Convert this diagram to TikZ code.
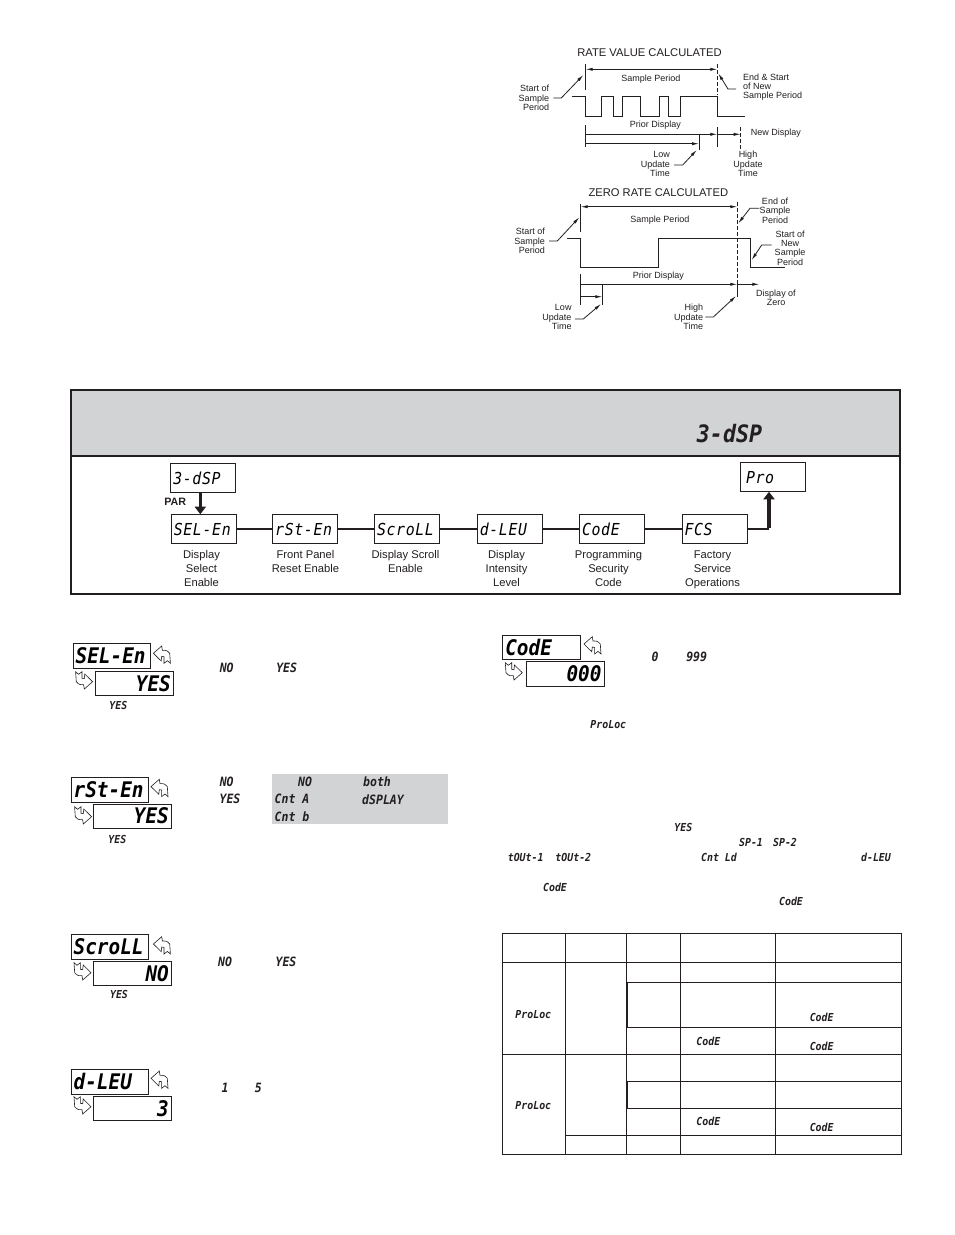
\documentclass[tikz,border=0pt]{standalone}
\usepackage{fontspec}
\setmainfont{Liberation Sans}
\newfontfamily\segfont[FakeStretch=0.9]{DejaVu Sans Mono}
\usetikzlibrary{arrows.meta}
\definecolor{inkblack}{HTML}{231F20}
\definecolor{panelgray}{HTML}{D1D3D4}
\tikzset{
	cadline/.style={line width=0.8pt, inkblack},
	cadarrow/.style={cadline, -{Latex[length=7pt,width=3.2pt]}},
	cadboth/.style={cadline, {Latex[length=7pt,width=3.2pt]}-{Latex[length=7pt,width=3.2pt]}},
	caddash/.style={cadline, dash pattern=on 4pt off 2pt},
	cadtitle/.style={inner sep=0pt, font=\fontsize{11.2}{12}\selectfont, inkblack},
	cadtext/.style={inner sep=0pt, font=\fontsize{9}{9.3}\selectfont, inkblack},
	flowlabel/.style={inner sep=0pt, align=center, anchor=north, font=\fontsize{11.2}{14}\selectfont, inkblack},
	flowbox/.style={draw=inkblack, line width=1pt, minimum width=65pt, minimum height=28.6pt, inner xsep=2.5pt, inner ysep=0pt, text width=60pt, align=left, font=\segfont\itshape\fontsize{16.5}{17}\selectfont\addfontfeature{LetterSpace=4}, text height=12pt, text depth=0pt},
	flowline/.style={line width=2pt, inkblack},
	bigarrow/.style={line width=3.6pt, inkblack, -{Triangle[length=7.5pt,width=11pt]}},
	dispbox/.style={draw=inkblack, line width=1pt, minimum width=77.5pt, minimum height=24.2pt, anchor=north west, inner xsep=2.5pt, inner ysep=0pt, text width=72.5pt, font=\segfont\bfseries\itshape\fontsize{21.5}{22}\selectfont, text height=15.5pt, text depth=0pt},
	displeft/.style={dispbox, align=left},
	dispright/.style={dispbox, align=right},
	segsmall/.style={inner sep=0pt, font=\segfont\bfseries\itshape\fontsize{11}{12}\selectfont, inkblack},
	segmid/.style={inner sep=0pt, font=\segfont\bfseries\itshape\fontsize{12.8}{13}\selectfont, inkblack},
	retkey/.pic={
		\draw[line width=0.6pt, inkblack, fill=white, line join=miter] (-8.3,-1.7) -- (0,-9) -- (0.7,-4.7) .. controls (5,-4.7) .. (8,-1.7) -- (8.7,8.3) -- (5.7,5.7) -- (2.3,8.3) -- (2.3,1.7) -- (0,1.3) -- (-0.5,6) -- cycle;
	},
}
\begin{document}
\begin{tikzpicture}[x=1pt,y=-1pt]
	\useasboundingbox[fill=white] (0,0) rectangle (954,1235);

	%rate value timing
	\node[cadtitle] (ratetitle) at (649.5,52.7) {RATE VALUE CALCULATED};
	\draw[cadline] (585.7,64) -- (585.7,90);
	\draw[caddash] (717.3,64) -- (717.3,95);
	\draw[cadboth] (585.7,69.3) -- (717.3,69.3);
	\node[cadtext] (ratesample) at (651,79) {Sample Period};
	\draw[cadline] (571.7,96.7) -- (585.7,96.7) -- (585.7,116) -- (601.3,116) -- (601.3,96.7) -- (613.3,96.7) -- (613.3,116) -- (622.3,116) -- (622.3,96.7) -- (640.3,96.7) -- (640.3,116) -- (659.7,116) -- (659.7,96.7) -- (668.3,96.7) -- (668.3,116) -- (680.3,116) -- (680.3,96.7) -- (717.3,96.7) -- (717.3,116) -- (745,116);
	\node[cadtext] (rateprior) at (655.3,125) {Prior Display};
	\draw[cadline] (585.7,125) -- (585.7,147);
	\draw[cadline] (717.3,127) -- (717.3,147);
	\draw[caddash] (740.7,127) -- (740.7,150);
	\draw[cadarrow] (585.7,134.3) -- (717.3,134.3);
	\draw[cadarrow] (717.3,134.3) -- (740.7,134.3);
	\draw[cadline] (699,135) -- (699,150);
	\draw[cadarrow] (585.7,143.7) -- (699,143.7);
	\node[cadtext, anchor=west] (ratenew) at (750.7,133.3) {New Display};
	\node[cadtext, align=right, anchor=east] (ratelow) at (670,164) {Low\\Update\\Time};
	\node[cadtext, align=center] (ratehigh) at (748,164) {High\\Update\\Time};
	\node[cadtext, align=right, anchor=east] (ratestart) at (549.3,98) {Start of\\Sample\\Period};
	\node[cadtext, align=left, anchor=west] (rateend) at (743,87) {End \& Start\\of New\\Sample Period};
	\draw[cadarrow] (ratestart.east) ++(4,0) -- ++(8,0) -- (583.3,75);
	\draw[cadarrow] (rateend.west) ++(-7,2) -- ++(-8,0) -- (718.3,73.3);
	\draw[cadarrow] (ratelow.east) ++(4,1) -- ++(8.7,0) -- (696.7,150);

	%zero rate timing
	\node[cadtitle] (zerotitle) at (658.3,192.7) {ZERO RATE CALCULATED};
	\draw[cadline] (580.7,204) -- (580.7,231.7);
	\draw[caddash] (737.3,201.7) -- (737.3,282);
	\draw[cadline] (737.3,282) -- (737.3,296.7);
	\draw[cadboth] (580.7,206.7) -- (737.3,206.7);
	\node[cadtext] (zerosample) at (660,220) {Sample Period};
	\draw[cadline] (567.3,238.3) -- (580.7,238.3) -- (580.7,267.3) -- (658.3,267.3) -- (658.3,238.3) -- (750,238.3) -- (750,267.3) -- (785,267.3);
	\node[cadtext] (zeroprior) at (658.3,276) {Prior Display};
	\draw[cadline] (580.7,274) -- (580.7,305);
	\draw[cadline] (602.3,284.3) -- (602.3,305);
	\draw[cadarrow] (580.7,284.3) -- (737.3,284.3);
	\draw[cadarrow] (737.3,284.3) -- (759.3,284.3);
	\draw[cadarrow] (580.7,296.7) -- (602.3,296.7);
	\node[cadtext, align=center] (zerozero) at (776,297.5) {Display of\\Zero};
	\node[cadtext, align=right, anchor=east] (zerolow) at (571.7,317) {Low\\Update\\Time};
	\node[cadtext, align=right, anchor=east] (zerohigh) at (703.3,317) {High\\Update\\Time};
	\node[cadtext, align=right, anchor=east] (zerostart) at (545,241) {Start of\\Sample\\Period};
	\node[cadtext, align=center] (zeroend) at (775,210.5) {End of\\Sample\\Period};
	\node[cadtext, align=center] (zeronew) at (790,248) {Start of\\New\\Sample\\Period};
	\draw[cadarrow] (zerolow.east) ++(3.3,2) -- ++(8.3,0) -- (601,304);
	\draw[cadarrow] (zerohigh.east) ++(2,0) -- ++(8,0) -- (736,296);
	\draw[cadarrow] (zerostart.east) ++(4,0) -- ++(8.3,0) -- (579.3,217.3);
	\draw[cadarrow] (759.3,208.3) -- (750,208.3) -- (738.3,223.3);
	\draw[cadarrow] (771.7,245) -- (761.7,245) -- (751.7,260);

	%parameter panel
	\draw[line width=1.6pt, inkblack, fill=panelgray] (71,390) rectangle (900,456);
	\draw[line width=1.6pt, inkblack] (71,456) -- (71,594) -- (900,594) -- (900,456);
	\node[inner sep=0pt, font=\segfont\bfseries\itshape\fontsize{24}{24}\selectfont, inkblack] (headdsp) at (729.5,434) {3-dSP};

	\node[flowbox] (dsp) at (203.3,478) {3-dSP};
	\node[flowbox] (selen) at (203.8,529) {SEL-En};
	\node[flowbox] (rsten) at (305.2,529) {rSt-En};
	\node[flowbox] (scroll) at (407,529) {ScroLL};
	\node[flowbox] (dlev) at (509.8,529) {d-LEU};
	\node[flowbox] (code) at (612,529) {CodE};
	\node[flowbox] (fcs) at (714.5,529) {FCS};
	\node[flowbox, inner xsep=5.5pt, text width=54pt] (pro) at (773,477) {Pro};
	\draw[bigarrow] ([xshift=-3pt]dsp.south) -- ([xshift=-3.5pt]selen.north);
	\node[inner sep=0pt, font=\bfseries\fontsize{10.7}{12}\selectfont, inkblack] (par) at (175.3,502.3) {PAR};
	\foreach \from/\to in {selen/rsten, rsten/scroll, scroll/dlev, dlev/code, code/fcs}
		\draw[flowline] (\from) -- (\to);
	\coordinate (fcsturn) at (769,529);
	\draw[flowline] (fcs.east) -- (fcsturn);
	\draw[bigarrow] ([yshift=1pt]fcsturn) -- ([xshift=-4pt]pro.south);

	\node[flowlabel] (lbsel) at (201.5,550) {Display\\Select\\Enable};
	\node[flowlabel] (lbrst) at (305.5,550) {Front Panel\\Reset Enable};
	\node[flowlabel] (lbscr) at (405.5,550) {Display Scroll\\Enable};
	\node[flowlabel] (lblev) at (506.5,550) {Display\\Intensity\\Level};
	\node[flowlabel] (lbcod) at (608.5,550) {Programming\\Security\\Code};
	\node[flowlabel] (lbfcs) at (712.5,551) {Factory\\Service\\Operations};

	%display select
	\node[displeft] (selname) at (72.7,643.3) {SEL-En};
	\node[dispright] (selval) at (95.3,670.7) {YES};
	\pic at (161.7,655) {retkey};
	\pic[rotate=180] at (84.3,680) {retkey};
	\node[segsmall] (selyes) at (118.3,705.7) {YES};
	\node[segmid] (selno) at (226.7,668.3) {NO};
	\node[segmid] (selyess) at (286.7,668.3) {YES};

	%reset enable
	\node[displeft] (rstname) at (70.7,777.3) {rSt-En};
	\node[dispright] (rstval) at (93.3,803.5) {YES};
	\pic at (159.3,788.3) {retkey};
	\pic[rotate=180] at (83.3,815) {retkey};
	\node[segsmall] (rstyes) at (117.3,839.3) {YES};
	\node[segmid] (rstno) at (226.7,781.7) {NO};
	\node[segmid] (rstyess) at (230,799.3) {YES};
	\fill[panelgray] (272,774) rectangle (448,824);
	\node[segmid] (optno) at (305,782) {NO};
	\node[segmid] (optboth) at (377,782) {both};
	\node[segmid] (opta) at (292,799.3) {Cnt A};
	\node[segmid] (optdsp) at (383,799.3) {dSPLAY};
	\node[segmid] (optb) at (292,816.7) {Cnt b};

	%scroll enable
	\node[displeft] (scrname) at (70.7,934.3) {ScroLL};
	\node[dispright] (scrval) at (93.3,960.7) {NO};
	\pic at (161.7,945.7) {retkey};
	\pic[rotate=180] at (82.7,971) {retkey};
	\node[segsmall] (scryes) at (119,994.3) {YES};
	\node[segmid] (scrno) at (225,962.3) {NO};
	\node[segmid] (scryess) at (286,962.3) {YES};

	%intensity level
	\node[displeft] (levname) at (70.7,1069.3) {d-LEU};
	\node[dispright] (levval) at (93.3,1095.7) {3};
	\pic at (159.3,1080) {retkey};
	\pic[rotate=180] at (82.7,1105) {retkey};
	\node[segmid] (levone) at (225,1087.7) {1};
	\node[segmid] (levfive) at (258.3,1087.7) {5};

	%security code
	\node[displeft] (codname) at (502.3,635) {CodE};
	\node[dispright] (codval) at (526,661.3) {000};
	\pic at (592.3,645.7) {retkey};
	\pic[rotate=180] at (514,671) {retkey};
	\node[segmid] (codzero) at (655,657.3) {0};
	\node[segmid] (codnine) at (696.7,657.3) {999};
	\node[segsmall] (codlock) at (608.3,724.3) {ProLoc};
	\node[segsmall] (txyes) at (683.3,827.3) {YES};
	\node[segsmall] (txsp) at (751,842.3) {SP-1};
	\node[segsmall] (txspb) at (785,842.3) {SP-2};
	\node[segsmall] (txto) at (525.7,857.7) {tOUt-1};
	\node[segsmall] (txtob) at (573.3,857.7) {tOUt-2};
	\node[segsmall] (txcnt) at (719,857.7) {Cnt Ld};
	\node[segsmall] (txlev) at (876,857.7) {d-LEU};
	\node[segsmall] (txcod) at (555,887.7) {CodE};
	\node[segsmall] (txcodb) at (791,901.7) {CodE};

	%code table
	\draw[cadline] (502.3,933.3) rectangle (901.7,1154.3);
	\foreach \colx in {565.3,626.3,680.3,775.7}
		\draw[cadline] (\colx,933.3) -- (\colx,1154.3);
	\foreach \rowy in {962.3,1054.3}
		\draw[cadline] (502.3,\rowy) -- (901.7,\rowy);
	\foreach \rowy in {982.3,1027.3,1081.3,1108.3}
		\draw[cadline] (626.3,\rowy) -- (901.7,\rowy);
	\draw[cadline] (565.3,1135.3) -- (901.7,1135.3);
	\draw[line width=1.6pt, inkblack] (627.3,982.3) -- (627.3,1027.3);
	\draw[line width=1.6pt, inkblack] (627.3,1081.3) -- (627.3,1108.3);
	\node[segsmall] (tblockone) at (533.3,1014.3) {ProLoc};
	\node[segsmall] (tblocktwo) at (533.3,1105.3) {ProLoc};
	\node[segsmall] (tbcoda) at (821.7,1017.7) {CodE};
	\node[segsmall] (tbcodb) at (708.3,1041.7) {CodE};
	\node[segsmall] (tbcodc) at (821.7,1046.7) {CodE};
	\node[segsmall] (tbcodd) at (708.3,1121.7) {CodE};
	\node[segsmall] (tbcode) at (821.7,1127.7) {CodE};
\end{tikzpicture}
\end{document}
